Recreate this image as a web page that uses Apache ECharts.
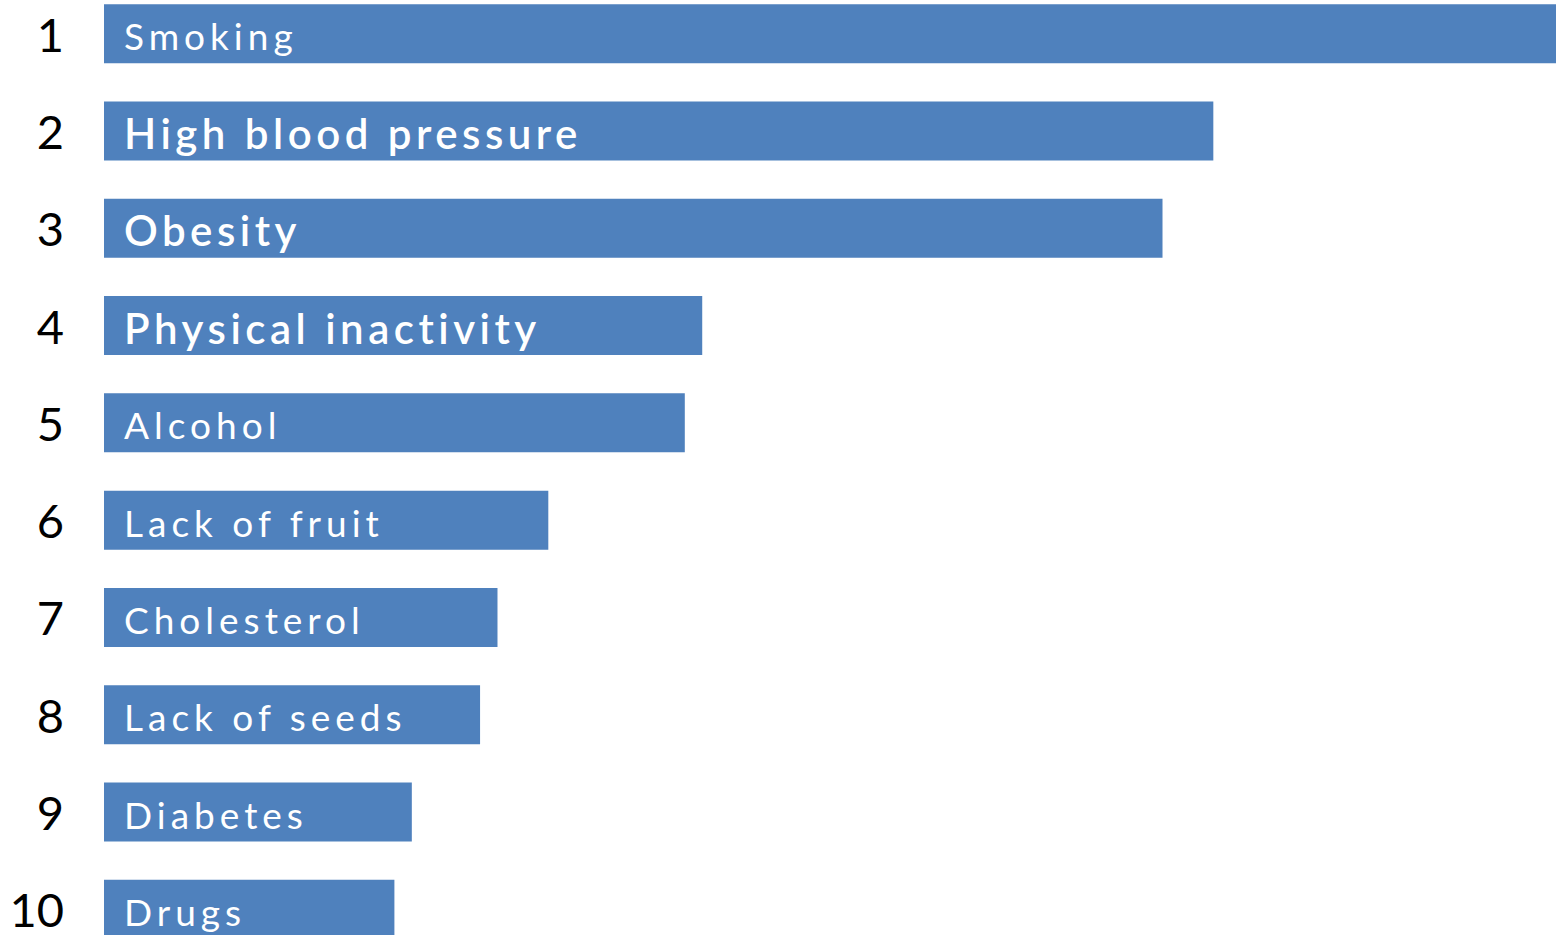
<!DOCTYPE html>
<html>
<head>
<meta charset="utf-8">
<title>Top risk factors</title>
<script src="https://cdn.jsdelivr.net/npm/echarts@6/dist/echarts.min.js"></script>
<style>
  html, body { margin: 0; padding: 0; background: #ffffff; overflow: hidden; }
  /* the plot runs half a band past the top and bottom edges of the page */
  #chart { position: relative; top: -15px; width: 1557px; height: 973px; }
  /* wide tracking for the labels inside the bars */
  #chart svg text[fill="#fff"] { letter-spacing: 5px; }
  #chart svg text[fill="#ffffff"] { letter-spacing: 4.5px; }
</style>
</head>
<body>
<div id="chart"></div>
<script>
// Risk factors, ranked
const ranks = ['1', '2', '3', '4', '5', '6', '7', '8', '9', '10'];
const factors = [
  'Smoking', 'High blood pressure', 'Obesity', 'Physical inactivity', 'Alcohol',
  'Lack of fruit', 'Cholesterol', 'Lack of seeds', 'Diabetes', 'Drugs'
];
const burden = [100, 76.4, 72.9, 41.2, 40.0, 30.6, 27.1, 25.9, 21.2, 20.0];

// factors whose labels are set larger and heavier
const emphasised = new Set(['High blood pressure', 'Obesity', 'Physical inactivity']);

const chart = echarts.init(document.getElementById('chart'), null, { renderer: 'svg' });

const seriesData = burden.map((v, i) => {
  const strong = emphasised.has(factors[i]);
  return {
    value: v,
    name: factors[i],
    label: strong
      ? { fontSize: 42, fontWeight: 600, color: '#ffffff' }
      : { fontSize: 37, fontWeight: 'normal', color: '#fff' }
  };
});

chart.setOption({
  animation: false,
  backgroundColor: '#ffffff',
  grid: { left: 104, right: 1, top: 0, bottom: 0, containLabel: false },
  xAxis: {
    type: 'value',
    min: 0,
    max: 100,
    show: false
  },
  yAxis: {
    type: 'category',
    data: ranks,
    inverse: true,
    axisLine: { show: false },
    axisTick: { show: false },
    splitLine: { show: false },
    axisLabel: {
      margin: 40,
      color: '#000000',
      fontFamily: 'Lato, "Open Sans", sans-serif',
      fontSize: 47,
      align: 'right'
    }
  },
  series: [{
    type: 'bar',
    data: seriesData,
    barWidth: 59,
    itemStyle: { color: '#4F81BD' },
    label: {
      show: true,
      position: 'insideLeft',
      distance: 20,
      offset: [0, 2],
      fontFamily: 'Lato, "Open Sans", sans-serif',
      formatter: p => p.name
    }
  }]
});
</script>
</body>
</html>
